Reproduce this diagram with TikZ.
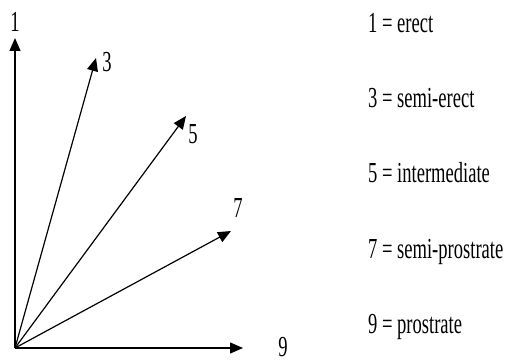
\documentclass[tikz,border=0pt]{standalone}
\usepackage{fontspec}
\setmainfont{Liberation Serif}
\usetikzlibrary{arrows.meta}
\begin{document}
\begin{tikzpicture}[x=1pt,y=-1pt,
  vec/.style={line width=1.2pt,-{Triangle[length=13pt,width=11pt]}},
  lbl/.style={font=\fontsize{29}{29}\selectfont,inner sep=0pt,xscale=0.64,transform shape},
  leg/.style={lbl,anchor=base west}]
\useasboundingbox (0,0) rectangle (505,363);
\coordinate (o) at (15,348);
\coordinate (t1) at (15,38);
\coordinate (t3) at (96,58);
\coordinate (t5) at (186,116);
\coordinate (t7) at (231,231);
\coordinate (t9) at (243,348);
\draw[vec] (o) -- (t1);
\draw[vec] (o) -- (t3);
\draw[vec] (o) -- (t5);
\draw[vec] (o) -- (t7);
\draw[vec] (o) -- (t9);
\node[lbl] (l1) at (15,22) {1};
\node[lbl] (l3) at (107,62) {3};
\node[lbl] (l5) at (193,134) {5};
\node[lbl] (l7) at (238,208) {7};
\node[lbl] (l9) at (283,347) {9};
\node[leg] (g1) at (368,33) {1 = erect};
\node[leg] (g3) at (368,108) {3 = semi-erect};
\node[leg] (g5) at (368,183) {5 = intermediate};
\node[leg] (g7) at (368,258) {7 = semi-prostrate};
\node[leg] (g9) at (368,333) {9 = prostrate};
\end{tikzpicture}
\end{document}
